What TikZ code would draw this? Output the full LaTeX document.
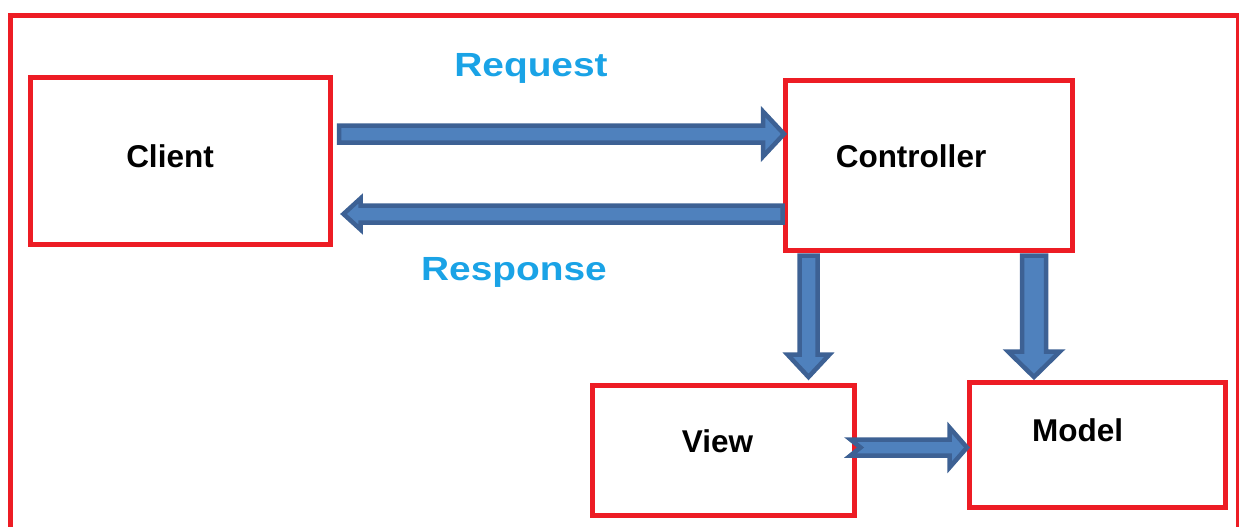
\documentclass[tikz,border=0pt]{standalone}
\usepackage{fontspec}
\setmainfont{Liberation Sans}
\newfontfamily\lblfont[FakeStretch=1.16]{Liberation Sans}
\usetikzlibrary{calc}
\definecolor{boxred}{HTML}{ED1C24}
\definecolor{arrfill}{HTML}{4F81BD}
\definecolor{arrline}{HTML}{3D6194}
\definecolor{lblblue}{HTML}{1AA3E6}
% #1 start, #2 tip, #3 ux, #4 uy, #5 shaft half width, #6 head half width, #7 head length, #8 notch depth
\newcommand\blockarrow[8]{%
  \draw[blockarr] ($(#1)+({-(#5)*(#4)},{(#5)*(#3)})$)
    -- ($(#2)+({-(#7)*(#3)-(#5)*(#4)},{-(#7)*(#4)+(#5)*(#3)})$)
    -- ($(#2)+({-(#7)*(#3)-(#6)*(#4)},{-(#7)*(#4)+(#6)*(#3)})$)
    -- (#2)
    -- ($(#2)+({-(#7)*(#3)+(#6)*(#4)},{-(#7)*(#4)-(#6)*(#3)})$)
    -- ($(#2)+({-(#7)*(#3)+(#5)*(#4)},{-(#7)*(#4)-(#5)*(#3)})$)
    -- ($(#1)+({(#5)*(#4)},{-(#5)*(#3)})$)
    -- ($(#1)+({(#8)*(#3)},{(#8)*(#4)})$)
    -- cycle;}
\begin{document}
\begin{tikzpicture}[x=1pt,y=-1pt,
  box/.style={draw=boxred, line width=5pt, inner sep=0pt, outer sep=0pt},
  boxlabel/.style={anchor=base, inner sep=0pt, font=\fontsize{31.5}{36}\selectfont\bfseries},
  flowlabel/.style={anchor=base, inner sep=0pt, text=lblblue, font=\lblfont\fontsize{33.5}{38}\selectfont\bfseries},
  blockarr/.style={fill=arrfill, draw=arrline, line width=4.5pt, line join=miter}]
\path[use as bounding box] (0,0) rectangle (1239,527);
% outer frame
\node[box, minimum width=1228pt, minimum height=520pt, anchor=north west] (frame) at (10.5,15.5) {};
% boxes
\node[box, minimum width=300pt, minimum height=167pt] (client) at (180.5,161) {};
\node[box, minimum width=287pt, minimum height=170pt] (controller) at (929,165.5) {};
\node[box, minimum width=262pt, minimum height=130pt] (view) at (723.5,450.5) {};
\node[box, minimum width=256pt, minimum height=125pt] (model) at (1097.5,445) {};
% labels
\node[boxlabel] (clientlbl) at (170,167) {Client};
\node[boxlabel] (controllerlbl) at (911,167) {Controller};
\node[boxlabel] (viewlbl) at (717.5,452) {View};
\node[boxlabel] (modellbl) at (1077.5,441) {Model};
\node[flowlabel] (requestlbl) at (531,77) {Request};
\node[flowlabel] (responselbl) at (514,280) {Response};
% arrow end points
\coordinate (rqA) at ($(client.east |- 0,134)+(8.5,0)$);
\coordinate (rqB) at ($(controller.west |- 0,134)+(-1.5,0)$);
\coordinate (rsA) at ($(controller.west |- 0,214)+(-3,0)$);
\coordinate (rsB) at ($(client.east |- 0,214)+(13,0)$);
\coordinate (cvA) at ($(controller.south -| 808.5,0)+(0,5)$);
\coordinate (cvB) at ($(view.north -| 808.5,0)+(0,-8.5)$);
\coordinate (cmA) at ($(controller.south -| 1034,0)+(0,5)$);
\coordinate (cmB) at ($(model.north -| 1034,0)+(0,-5.5)$);
\coordinate (vmA) at ($(view.east |- 0,447.5)+(-4,0)$);
\coordinate (vmB) at ($(model.west |- 0,447.5)+(-2.5,0)$);
% arrows
\blockarrow{rqA}{rqB}{1}{0}{8.5}{22.5}{21}{0}
\blockarrow{rsA}{rsB}{-1}{0}{8.5}{15.5}{17}{0}
\blockarrow{cvA}{cvB}{0}{1}{9}{21}{22.5}{0}
\blockarrow{cmA}{cmB}{0}{1}{12}{26}{25.5}{0}
\blockarrow{vmA}{vmB}{1}{0}{8}{20}{17.5}{10}
\end{tikzpicture}
\end{document}
